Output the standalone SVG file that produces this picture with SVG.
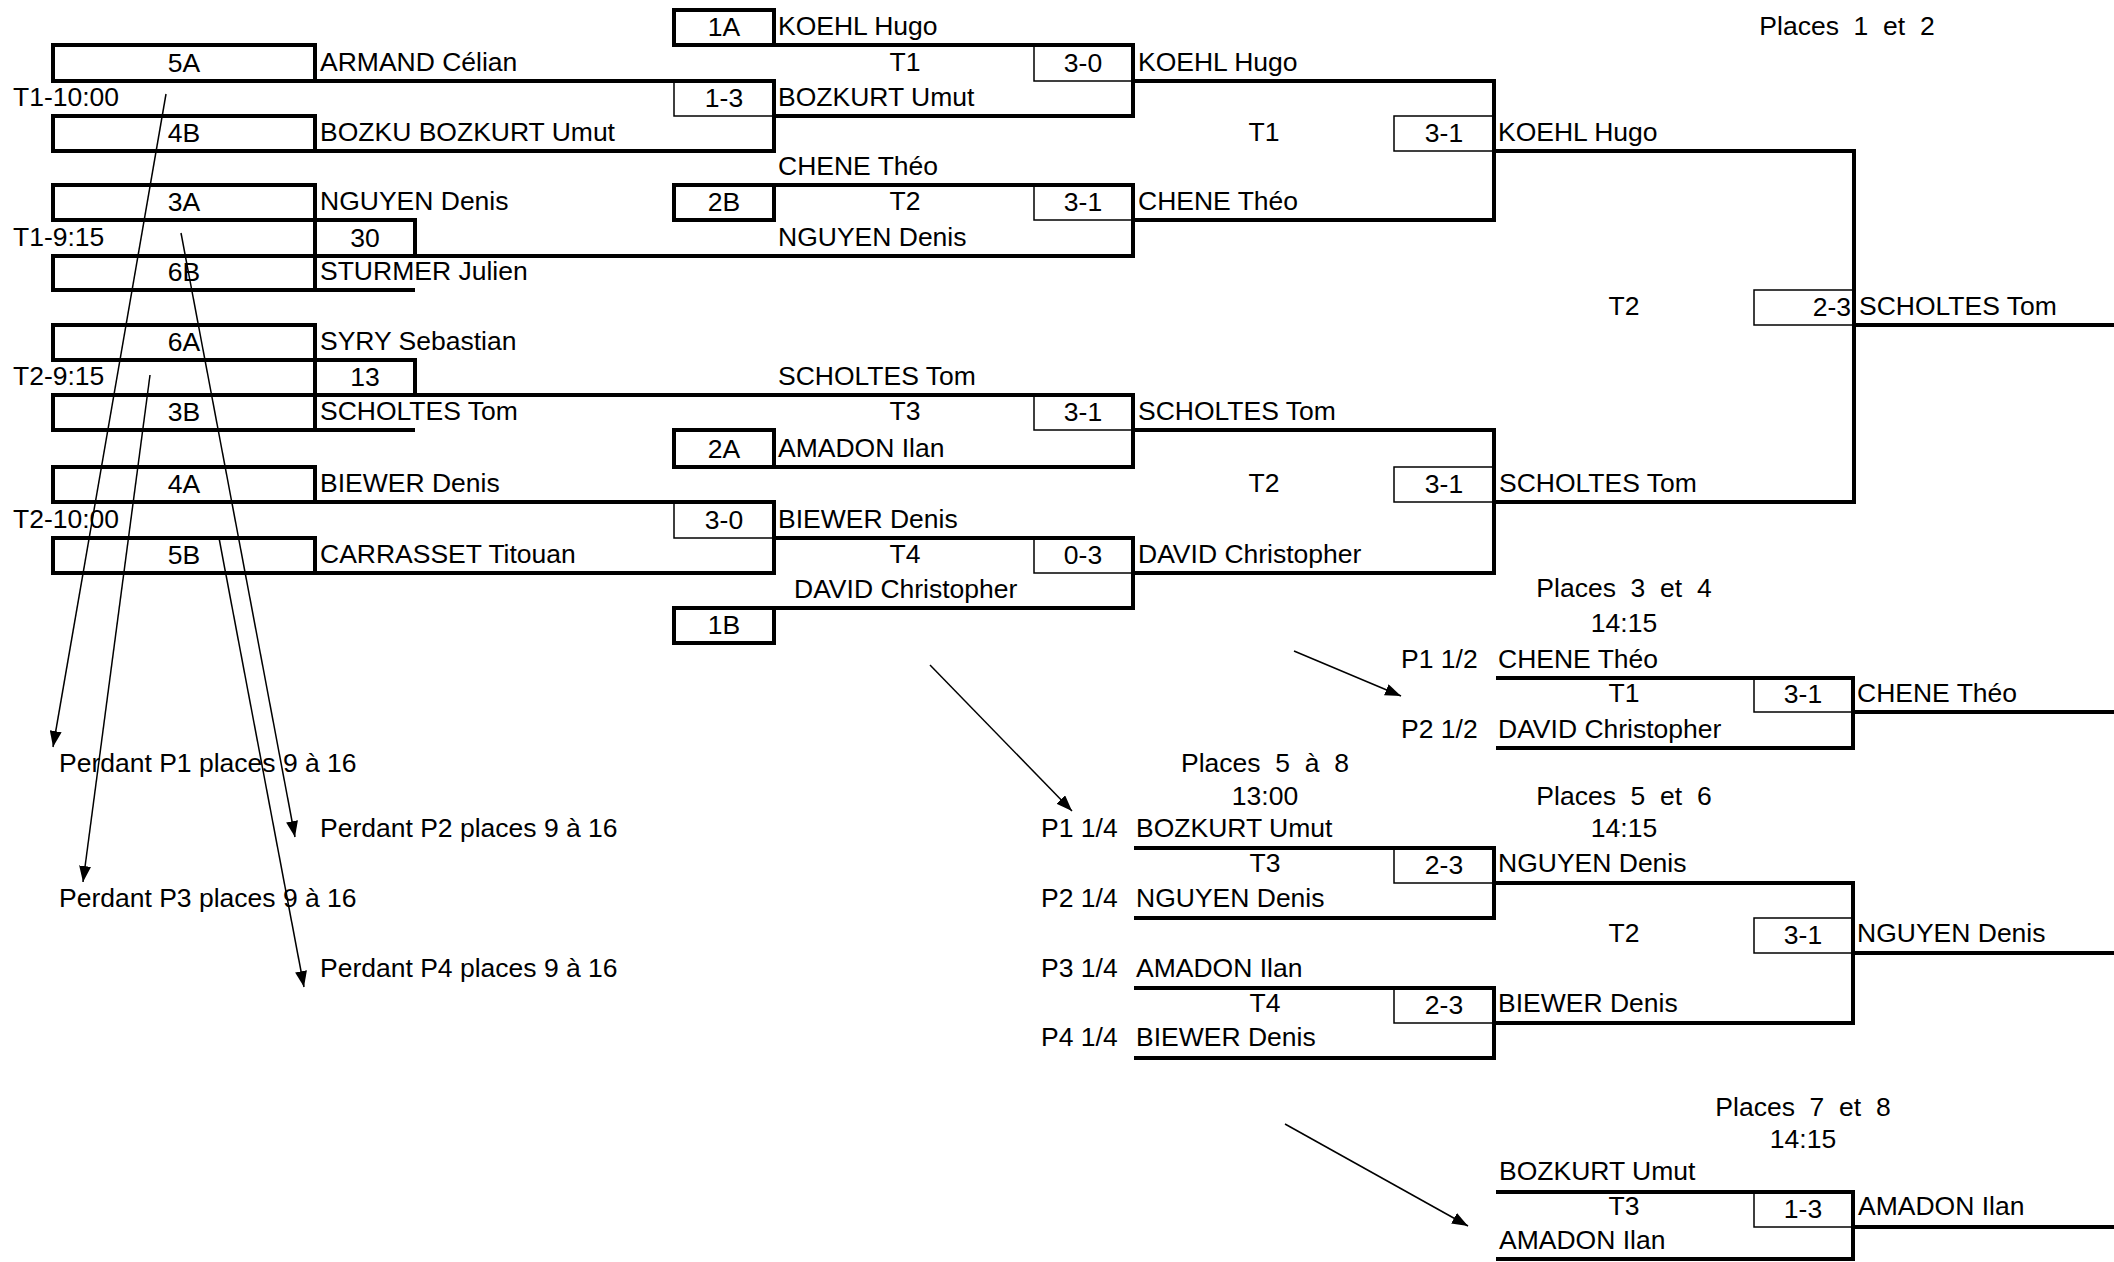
<svg xmlns="http://www.w3.org/2000/svg" width="2114" height="1262" viewBox="0 0 2114 1262">
<style>
text{font-family:"Liberation Sans",Arial,sans-serif;font-size:26.5px;fill:#000}
.c{text-anchor:middle}
.e{text-anchor:end}
.k{stroke:#000;stroke-width:4;fill:none;stroke-linejoin:miter;stroke-linecap:square}
.n{stroke:#000;stroke-width:1.5;fill:none}
.a{stroke:#000;stroke-width:1.5;fill:none;marker-end:url(#ah)}
</style>
<defs>
<marker id="ah" viewBox="0 0 16 12" refX="16" refY="6" markerWidth="16" markerHeight="12" markerUnits="userSpaceOnUse" orient="auto"><path d="M0,0 L16,6 L0,12 z" fill="#000"/></marker>
</defs>
<rect width="2114" height="1262" fill="#fff"/>

<g id="score-boxes">
<rect class="n" x="674" y="81" width="100" height="35"/>
<rect class="n" x="674" y="502" width="100" height="36"/>
<rect class="n" x="1034" y="45" width="99" height="36"/>
<rect class="n" x="1034" y="185" width="99" height="35"/>
<rect class="n" x="1034" y="395" width="99" height="35"/>
<rect class="n" x="1034" y="538" width="99" height="35"/>
<rect class="n" x="1394" y="116" width="100" height="35"/>
<rect class="n" x="1394" y="467" width="100" height="35"/>
<rect class="n" x="1754" y="290" width="100" height="35"/>
<rect class="n" x="1754" y="678" width="99" height="34"/>
<rect class="n" x="1394" y="848" width="100" height="35"/>
<rect class="n" x="1394" y="988" width="100" height="35"/>
<rect class="n" x="1754" y="918" width="99" height="35"/>
<rect class="n" x="1754" y="1192" width="99" height="35"/>
</g>

<g id="entry-boxes">
<rect class="k" x="53" y="45" width="262" height="36"/>
<rect class="k" x="53" y="116" width="262" height="35"/>
<rect class="k" x="53" y="185" width="262" height="35"/>
<rect class="k" x="53" y="256" width="262" height="34"/>
<rect class="k" x="53" y="325" width="262" height="35"/>
<rect class="k" x="53" y="395" width="262" height="35"/>
<rect class="k" x="53" y="467" width="262" height="35"/>
<rect class="k" x="53" y="538" width="262" height="35"/>
<rect class="k" x="674" y="10" width="100" height="35"/>
<rect class="k" x="674" y="185" width="100" height="35"/>
<rect class="k" x="674" y="430" width="100" height="37"/>
<rect class="k" x="674" y="608" width="100" height="35"/>
</g>

<g id="connectors">
<path class="k" d="M315,81 H774 V151 H315"/>
<path class="k" d="M774,116 H1133"/>
<path class="k" d="M315,220 H415 V256 M315,220 V256 M53,256 H1133 M315,290 H413"/>
<path class="k" d="M315,360 H415 V395 M315,360 V395 M53,395 H1133 M315,430 H413"/>
<path class="k" d="M315,502 H774 V573 H315"/>
<path class="k" d="M774,538 H1133"/>
<path class="k" d="M774,45 H1133 V116"/>
<path class="k" d="M774,185 H1133 V256"/>
<path class="k" d="M1133,395 V467 H774"/>
<path class="k" d="M1133,538 V608 H774"/>
<path class="k" d="M1133,81 H1494 V220 H1133"/>
<path class="k" d="M1133,430 H1494 V573 H1133"/>
<path class="k" d="M1494,151 H1854 V502 H1494"/>
<path class="k" d="M1854,325 H2116"/>
<path class="k" d="M1498,678 H1853 V748 H1498 M1853,712 H2116"/>
<path class="k" d="M1136,848 H1494 V918 H1136"/>
<path class="k" d="M1136,988 H1494 V1058 H1136"/>
<path class="k" d="M1494,883 H1853 V1023 H1494 M1853,953 H2116"/>
<path class="k" d="M1498,1192 H1853 V1259 H1498 M1853,1227 H2116"/>
<line class="a" x1="166" y1="94" x2="53" y2="747"/>
<line class="a" x1="181" y1="233" x2="295" y2="837"/>
<line class="a" x1="150" y1="375" x2="83" y2="882"/>
<line class="a" x1="219" y1="538" x2="304" y2="987"/>
<line class="a" x1="930" y1="665" x2="1072" y2="811"/>
<line class="a" x1="1294" y1="651" x2="1401" y2="696"/>
<line class="a" x1="1285" y1="1124" x2="1468" y2="1226"/>
</g>

<g id="box-labels">
<text class="c" x="184" y="72">5A</text>
<text class="c" x="184" y="142">4B</text>
<text class="c" x="184" y="211">3A</text>
<text class="c" x="184" y="281">6B</text>
<text class="c" x="184" y="351">6A</text>
<text class="c" x="184" y="421">3B</text>
<text class="c" x="184" y="493">4A</text>
<text class="c" x="184" y="564">5B</text>
<text class="c" x="365" y="247">30</text>
<text class="c" x="365" y="386">13</text>
<text class="c" x="724" y="36">1A</text>
<text class="c" x="724" y="107">1-3</text>
<text class="c" x="724" y="211">2B</text>
<text class="c" x="724" y="458">2A</text>
<text class="c" x="724" y="529">3-0</text>
<text class="c" x="724" y="634">1B</text>
<text class="c" x="1083" y="72">3-0</text>
<text class="c" x="1083" y="211">3-1</text>
<text class="c" x="1083" y="421">3-1</text>
<text class="c" x="1083" y="564">0-3</text>
<text class="c" x="1444" y="142">3-1</text>
<text class="c" x="1444" y="493">3-1</text>
<text class="e" x="1851" y="316">2-3</text>
<text class="c" x="1803" y="703">3-1</text>
<text class="c" x="1444" y="874">2-3</text>
<text class="c" x="1803" y="944">3-1</text>
<text class="c" x="1444" y="1014">2-3</text>
<text class="c" x="1803" y="1218">1-3</text>
</g>

<g id="match-labels">
<text x="13" y="106">T1-10:00</text>
<text x="13" y="246">T1-9:15</text>
<text x="13" y="385">T2-9:15</text>
<text x="13" y="528">T2-10:00</text>
<text class="c" x="905" y="71">T1</text>
<text class="c" x="905" y="210">T2</text>
<text class="c" x="905" y="420">T3</text>
<text class="c" x="905" y="563">T4</text>
<text class="c" x="1264" y="141">T1</text>
<text class="c" x="1264" y="492">T2</text>
<text class="c" x="1624" y="315">T2</text>
<text class="c" x="1624" y="702">T1</text>
<text class="c" x="1265" y="872">T3</text>
<text class="c" x="1624" y="942">T2</text>
<text class="c" x="1265" y="1012">T4</text>
<text class="c" x="1624" y="1215">T3</text>
<text class="c" x="1847" y="35" xml:space="preserve">Places  1  et  2</text>
<text class="c" x="1624" y="597" xml:space="preserve">Places  3  et  4</text>
<text class="c" x="1624" y="632">14:15</text>
<text class="c" x="1265" y="772" xml:space="preserve">Places  5  à  8</text>
<text class="c" x="1265" y="805">13:00</text>
<text class="c" x="1624" y="805" xml:space="preserve">Places  5  et  6</text>
<text class="c" x="1624" y="837">14:15</text>
<text class="c" x="1803" y="1116" xml:space="preserve">Places  7  et  8</text>
<text class="c" x="1803" y="1148">14:15</text>
<text x="1401" y="668">P1 1/2</text>
<text x="1401" y="738">P2 1/2</text>
<text x="1041" y="837">P1 1/4</text>
<text x="1041" y="907">P2 1/4</text>
<text x="1041" y="977">P3 1/4</text>
<text x="1041" y="1046">P4 1/4</text>
<text x="59" y="772">Perdant P1 places 9 à 16</text>
<text x="320" y="837">Perdant P2 places 9 à 16</text>
<text x="59" y="907">Perdant P3 places 9 à 16</text>
<text x="320" y="977">Perdant P4 places 9 à 16</text>
</g>

<g id="names">
<text x="320" y="71">ARMAND Célian</text>
<text x="320" y="141">BOZKU BOZKURT Umut</text>
<text x="320" y="210">NGUYEN Denis</text>
<text x="320" y="280">STURMER Julien</text>
<text x="320" y="350">SYRY Sebastian</text>
<text x="320" y="420">SCHOLTES Tom</text>
<text x="320" y="492">BIEWER Denis</text>
<text x="320" y="563">CARRASSET Titouan</text>
<text x="778" y="35">KOEHL Hugo</text>
<text x="778" y="106">BOZKURT Umut</text>
<text x="778" y="175">CHENE Théo</text>
<text x="778" y="246">NGUYEN Denis</text>
<text x="778" y="385">SCHOLTES Tom</text>
<text x="778" y="457">AMADON Ilan</text>
<text x="778" y="528">BIEWER Denis</text>
<text x="794" y="598">DAVID Christopher</text>
<text x="1138" y="71">KOEHL Hugo</text>
<text x="1138" y="210">CHENE Théo</text>
<text x="1138" y="420">SCHOLTES Tom</text>
<text x="1138" y="563">DAVID Christopher</text>
<text x="1498" y="141">KOEHL Hugo</text>
<text x="1499" y="492">SCHOLTES Tom</text>
<text x="1859" y="315">SCHOLTES Tom</text>
<text x="1498" y="668">CHENE Théo</text>
<text x="1498" y="738">DAVID Christopher</text>
<text x="1857" y="702">CHENE Théo</text>
<text x="1136" y="837">BOZKURT Umut</text>
<text x="1136" y="907">NGUYEN Denis</text>
<text x="1136" y="977">AMADON Ilan</text>
<text x="1136" y="1046">BIEWER Denis</text>
<text x="1498" y="872">NGUYEN Denis</text>
<text x="1498" y="1012">BIEWER Denis</text>
<text x="1857" y="942">NGUYEN Denis</text>
<text x="1499" y="1180">BOZKURT Umut</text>
<text x="1499" y="1249">AMADON Ilan</text>
<text x="1858" y="1215">AMADON Ilan</text>
</g>
</svg>
